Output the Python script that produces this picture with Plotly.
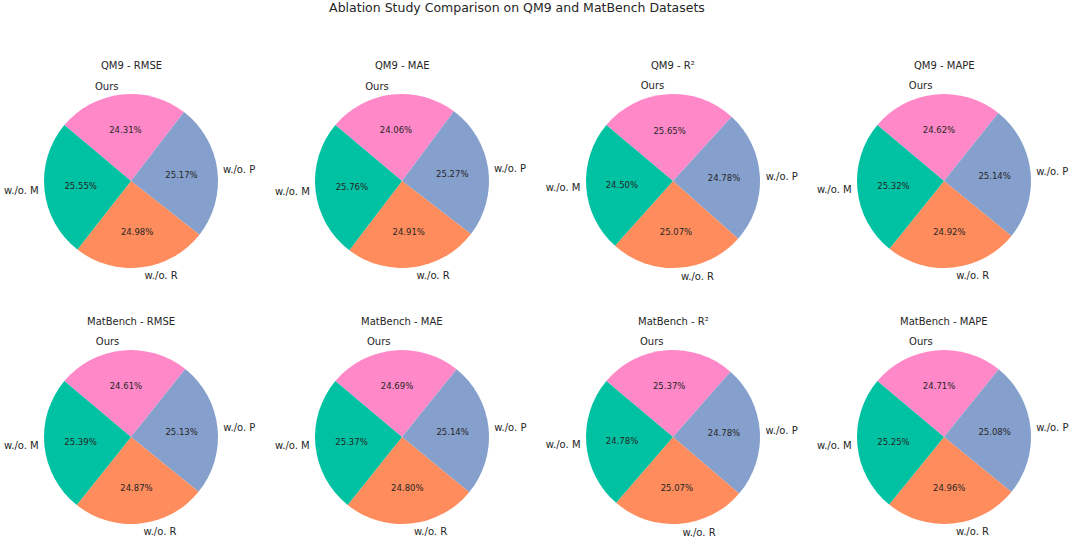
import plotly.graph_objects as go

# ---- data ----
labels = ["w./o. M", "w./o. R", "w./o. P", "Ours"]
titles = ["QM9 - RMSE", "QM9 - MAE", "QM9 - R²", "QM9 - MAPE",
          "MatBench - RMSE", "MatBench - MAE", "MatBench - R²", "MatBench - MAPE"]
qm9_rmse = [25.55, 24.98, 25.17, 24.31]
qm9_mae = [25.76, 24.91, 25.27, 24.06]
qm9_r2 = [24.50, 25.07, 24.78, 25.65]
qm9_mape = [25.32, 24.92, 25.14, 24.62]
mb_rmse = [25.39, 24.87, 25.13, 24.61]
mb_mae = [25.37, 24.80, 25.14, 24.69]
mb_r2 = [24.78, 25.07, 24.78, 25.37]
mb_mape = [25.25, 24.96, 25.08, 24.71]
series = [qm9_rmse, qm9_mae, qm9_r2, qm9_mape, mb_rmse, mb_mae, mb_r2, mb_mape]
colors = ["#00c1a2", "#ff8c5c", "#85a0cc", "#ff88c8"]

W, H = 1072, 538
R = 87        # pie radius (px)
RL = 90       # radius used to place outside labels (px)
col_cx = [131, 402, 673, 944]
row_cy = [181, 437]
row_title_y = [65.5, 321]
TXT = "#262626"
FONT = "DejaVu Sans"


def domain(cx, cy, rad):
    return dict(x=[(cx - rad) / W, (cx + rad) / W],
                y=[1 - (cy + rad) / H, 1 - (cy - rad) / H])


fig = go.Figure()
annotations = []
for i, (vals, title) in enumerate(zip(series, titles)):
    r, c = divmod(i, 4)
    cx, cy = col_cx[c], row_cy[r]
    # drawn clockwise from 140 deg => counterclockwise order M, R, P, Ours
    lab = labels[::-1]
    v = vals[::-1]
    col = colors[::-1]
    fig.add_trace(go.Pie(
        labels=lab, values=v, sort=False, direction="clockwise", rotation=-50,
        marker=dict(colors=col, line=dict(width=0)),
        textposition="inside", insidetextorientation="horizontal",
        texttemplate="%{value:.2f}%", textfont=dict(size=8.5, color=TXT, family=FONT),
        domain=domain(cx, cy, R), showlegend=False, hoverinfo="label+value",
    ))
    fig.add_trace(go.Pie(
        labels=lab, values=v, sort=False, direction="clockwise", rotation=-50,
        marker=dict(colors=["rgba(0,0,0,0)"] * 4, line=dict(width=0)),
        textposition="outside", texttemplate="%{label}",
        outsidetextfont=dict(size=10, color=TXT, family=FONT),
        domain=domain(cx, cy, RL), showlegend=False, hoverinfo="skip",
    ))
    annotations.append(dict(
        text=title, x=cx / W, y=1 - row_title_y[r] / H, xref="paper", yref="paper",
        xanchor="center", yanchor="middle", showarrow=False,
        font=dict(size=10, color=TXT, family=FONT),
    ))

fig.update_layout(
    width=W, height=H,
    margin=dict(l=0, r=0, t=0, b=0, autoexpand=False),
    paper_bgcolor="white", plot_bgcolor="white",
    title=dict(text="Ablation Study Comparison on QM9 and MatBench Datasets",
               x=517 / W, xanchor="center", y=1 - 8 / H, yanchor="middle",
               font=dict(size=12.5, color=TXT, family=FONT)),
    annotations=annotations,
)
fig.write_html("out.html", config={"displayModeBar": False},
               post_script="document.body.style.margin='0';document.body.style.overflow='hidden';")
